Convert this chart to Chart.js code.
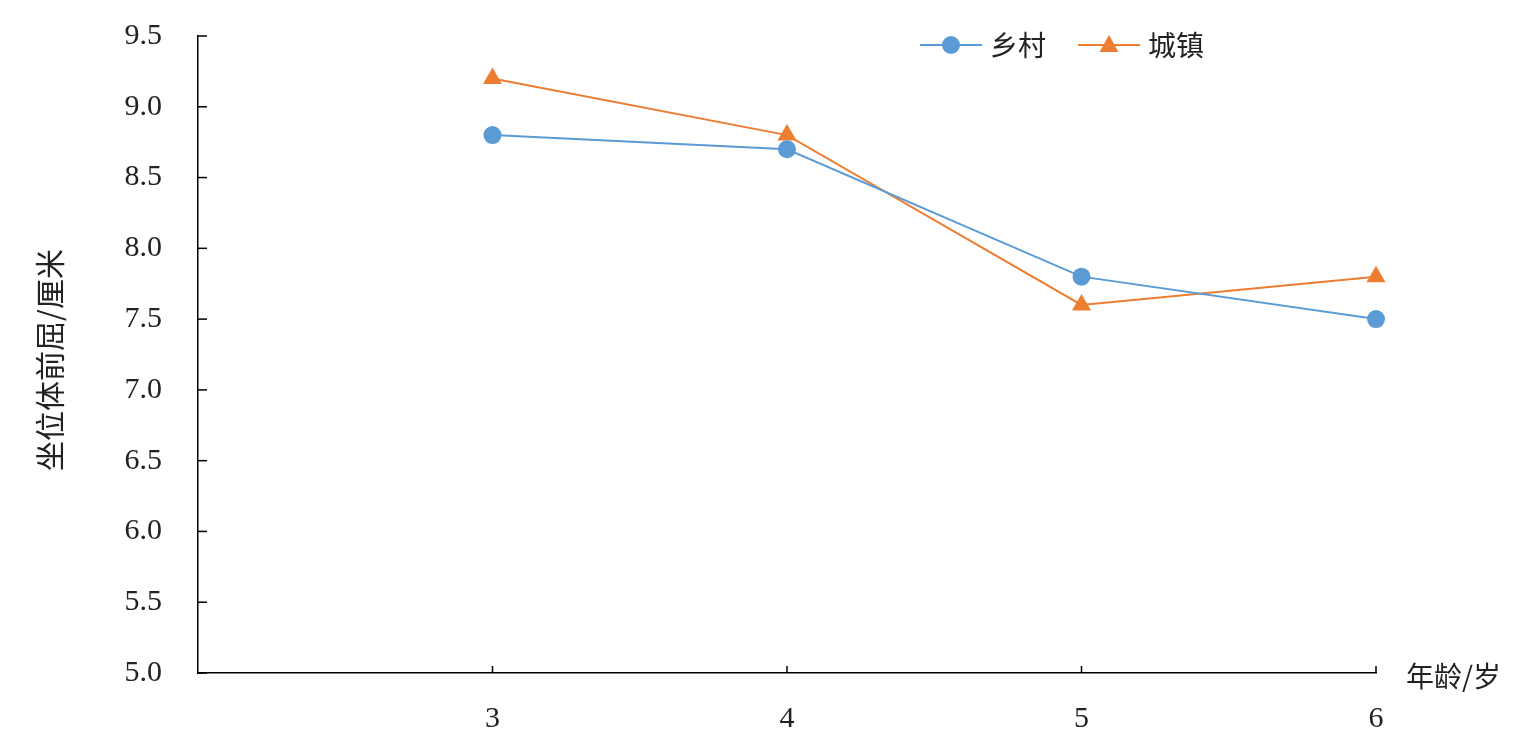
<!DOCTYPE html>
<html>
<head>
<meta charset="utf-8">
<script src="https://cdn.jsdelivr.net/npm/chart.js@4"></script>
<style>
  html, body { margin: 0; padding: 0; background: #fff; }
  #wrap { width: 1536px; height: 743px; }
</style>
</head>
<body>
<div id="wrap"><canvas id="myChart"></canvas></div>
<script>
/*==== data ====*/
const ages = [3, 4, 5, 6];
const rural = [8.8, 8.7, 7.8, 7.5];   // 乡村
const urban = [9.2, 8.8, 7.6, 7.8];   // 城镇
const seriesNames = ['乡村', '城镇'];
const yTicks = [5.0, 5.5, 6.0, 6.5, 7.0, 7.5, 8.0, 8.5, 9.0, 9.5];

const blue = '#5B9BD5';
const orange = '#ED7D31';
const serif = "'Liberation Serif', 'DejaVu Serif', serif";
const cjk = "'Noto Sans CJK SC', sans-serif";

function pts(vals) {
    return ages.map((a, i) => ({ x: a, y: vals[i] }));
}

/*==== inward ticks, titles, legend ====*/
const extras = {
    id: 'extras',
    afterDraw(chart) {
        const ctx = chart.ctx;
        const xs = chart.scales.x, ys = chart.scales.y;
        const area = chart.chartArea;
        ctx.save();
        ctx.strokeStyle = '#000';
        ctx.lineWidth = 1.5;
        // y ticks pointing right
        yTicks.forEach(v => {
            const py = ys.getPixelForValue(v);
            ctx.beginPath();
            ctx.moveTo(area.left, py);
            ctx.lineTo(area.left + 9, py);
            ctx.stroke();
        });
        // x ticks pointing up
        ages.forEach(a => {
            const px = xs.getPixelForValue(a);
            ctx.beginPath();
            ctx.moveTo(px, area.bottom);
            ctx.lineTo(px, area.bottom - 7);
            ctx.stroke();
        });
        // axis titles
        ctx.fillStyle = '#222';
        ctx.font = '28px ' + cjk;
        ctx.textAlign = 'left';
        ctx.textBaseline = 'middle';
        ctx.fillText('年龄/岁', area.right + 30, area.bottom + 3);
        ctx.font = '30px ' + cjk;
        ctx.translate(50, 360);
        ctx.rotate(-Math.PI / 2);
        ctx.textAlign = 'center';
        ctx.fillText('坐位体前屈/厘米', 0, 0);
        ctx.restore();

        // legend
        ctx.save();
        const items = [
            { name: seriesNames[0], color: blue, style: 'circle', x: 920 },
            { name: seriesNames[1], color: orange, style: 'triangle', x: 1078 }
        ];
        const ly = 45;
        items.forEach(it => {
            ctx.strokeStyle = it.color;
            ctx.fillStyle = it.color;
            ctx.lineWidth = 2;
            ctx.beginPath();
            ctx.moveTo(it.x, ly);
            ctx.lineTo(it.x + 62, ly);
            ctx.stroke();
            const cx = it.x + 31;
            ctx.beginPath();
            if (it.style === 'circle') {
                ctx.arc(cx, ly, 9, 0, Math.PI * 2);
            } else {
                ctx.moveTo(cx, ly - 10);
                ctx.lineTo(cx + 9.5, ly + 7);
                ctx.lineTo(cx - 9.5, ly + 7);
                ctx.closePath();
            }
            ctx.fill();
            ctx.fillStyle = '#222';
            ctx.font = '28px ' + cjk;
            ctx.textAlign = 'left';
            ctx.textBaseline = 'middle';
            ctx.fillText(it.name, it.x + 70, ly);
        });
        ctx.restore();
    }
};

/*==== config ====*/
const config = {
    type: 'line',
    data: {
        datasets: [
            {
                label: seriesNames[0],
                data: pts(rural),
                borderColor: blue,
                backgroundColor: blue,
                borderWidth: 2,
                pointStyle: 'circle',
                pointRadius: 9,
                pointHoverRadius: 9,
                pointBorderWidth: 0,
                tension: 0,
                clip: false
            },
            {
                label: seriesNames[1],
                data: pts(urban),
                borderColor: orange,
                backgroundColor: orange,
                borderWidth: 2,
                pointStyle: 'triangle',
                pointRadius: 11,
                pointHoverRadius: 11,
                pointBorderWidth: 0,
                tension: 0,
                clip: false
            }
        ]
    },
    options: {
        responsive: true,
        maintainAspectRatio: false,
        animation: false,
        layout: { padding: { top: 36, right: 160, left: 0, bottom: 0 } },
        plugins: {
            legend: { display: false },
            tooltip: { enabled: false }
        },
        scales: {
            x: {
                type: 'linear',
                min: 2,
                max: 6,
                afterBuildTicks(scale) {
                    scale.ticks = ages.map(a => ({ value: a }));
                },
                afterFit(scale) {
                    scale.height = 70;
                    scale.paddingLeft = 0;
                    scale.paddingRight = 0;
                },
                grid: { display: false },
                border: { display: true, color: '#000', width: 1.5 },
                ticks: {
                    padding: 20,
                    color: '#222',
                    font: { family: serif, size: 30 },
                    callback: v => String(v)
                }
            },
            y: {
                min: 5,
                max: 9.5,
                afterBuildTicks(scale) {
                    scale.ticks = yTicks.map(v => ({ value: v }));
                },
                afterFit(scale) {
                    scale.width = 198;
                    scale.paddingTop = 0;
                    scale.paddingBottom = 0;
                },
                grid: { display: false },
                border: { display: true, color: '#000', width: 1.5 },
                ticks: {
                    padding: 28,
                    color: '#222',
                    font: { family: serif, size: 30 },
                    callback: v => v.toFixed(1)
                }
            }
        }
    },
    plugins: [extras]
};

/*==== render ====*/
const myChart = new Chart(document.getElementById('myChart'), config);
</script>
</body>
</html>
